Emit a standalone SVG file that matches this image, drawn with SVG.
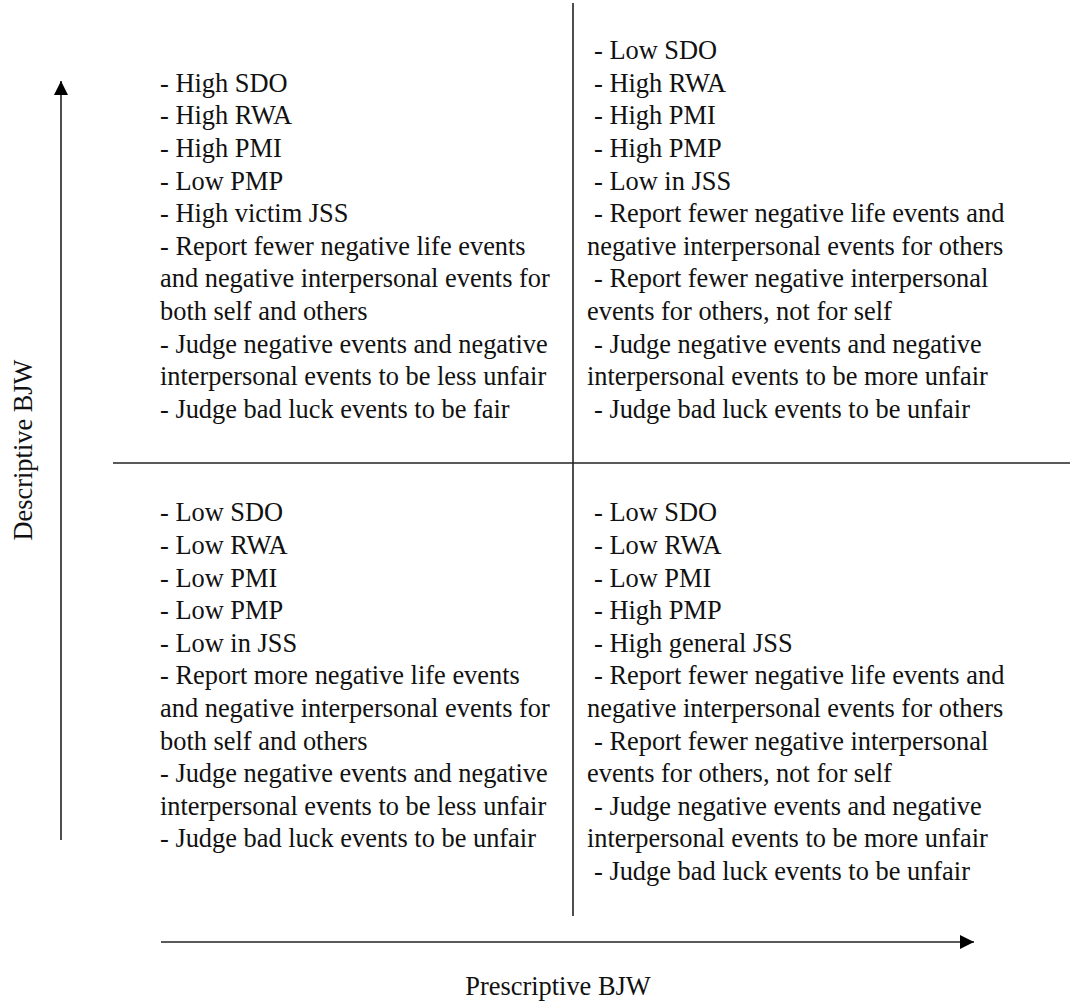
<svg xmlns="http://www.w3.org/2000/svg" width="1070" height="1003" viewBox="0 0 1070 1003">
<style>
  text { font-family: "Liberation Serif", "Times New Roman", serif; font-size: 26.4px; fill: #111; }
  .ln { stroke: #222; stroke-width: 1.6; fill: none; }
</style>
<defs>
  <marker id="ah" viewBox="0 0 10 10" refX="10" refY="5" markerWidth="9" markerHeight="9" markerUnits="userSpaceOnUse" orient="auto">
    <path d="M0,0 L10,5 L0,10 z" fill="#000"/>
  </marker>
  <marker id="ah2" viewBox="0 0 14 14" refX="14" refY="7" markerWidth="14" markerHeight="14" markerUnits="userSpaceOnUse" orient="auto">
    <path d="M0,0 L14,7 L0,14 z" fill="#000"/>
  </marker>
</defs>
<rect width="1070" height="1003" fill="#fff"/>
<g id="connectors">
  <line class="ln" x1="573" y1="3" x2="573" y2="916"/>
  <line class="ln" x1="113" y1="463" x2="1070" y2="463"/>
  <line class="ln" x1="61" y1="840" x2="61" y2="81" marker-end="url(#ah2)"/>
  <line class="ln" x1="161" y1="942" x2="974" y2="942" marker-end="url(#ah2)"/>
</g>
<g id="axis-descriptive">
  <text transform="translate(32,450) rotate(-90)" text-anchor="middle">Descriptive BJW</text>
</g>
<g id="axis-prescriptive">
  <text x="558" y="995" text-anchor="middle">Prescriptive BJW</text>
</g>
<g id="quadrant-top-left">
  <text x="160" y="91.7">- High SDO</text>
  <text x="160" y="124.3">- High RWA</text>
  <text x="160" y="156.9">- High PMI</text>
  <text x="160" y="189.5">- Low PMP</text>
  <text x="160" y="222.1">- High victim JSS</text>
  <text x="160" y="254.7">- Report fewer negative life events</text>
  <text x="160" y="287.3">and negative interpersonal events for</text>
  <text x="160" y="319.9">both self and others</text>
  <text x="160" y="352.5">- Judge negative events and negative</text>
  <text x="160" y="385.1">interpersonal events to be less unfair</text>
  <text x="160" y="417.7">- Judge bad luck events to be fair</text>
</g>
<g id="quadrant-top-right">
  <text x="594" y="59.1">- Low SDO</text>
  <text x="594" y="91.7">- High RWA</text>
  <text x="594" y="124.3">- High PMI</text>
  <text x="594" y="156.9">- High PMP</text>
  <text x="594" y="189.5">- Low in JSS</text>
  <text x="594" y="222.1">- Report fewer negative life events and</text>
  <text x="587" y="254.7">negative interpersonal events for others</text>
  <text x="594" y="287.3">- Report fewer negative interpersonal</text>
  <text x="587" y="319.9">events for others, not for self</text>
  <text x="594" y="352.5">- Judge negative events and negative</text>
  <text x="587" y="385.1">interpersonal events to be more unfair</text>
  <text x="594" y="417.7">- Judge bad luck events to be unfair</text>
</g>
<g id="quadrant-bottom-left">
  <text x="160" y="521.4">- Low SDO</text>
  <text x="160" y="554">- Low RWA</text>
  <text x="160" y="586.6">- Low PMI</text>
  <text x="160" y="619.2">- Low PMP</text>
  <text x="160" y="651.8">- Low in JSS</text>
  <text x="160" y="684.4">- Report more negative life events</text>
  <text x="160" y="717">and negative interpersonal events for</text>
  <text x="160" y="749.6">both self and others</text>
  <text x="160" y="782.2">- Judge negative events and negative</text>
  <text x="160" y="814.8">interpersonal events to be less unfair</text>
  <text x="160" y="847.4">- Judge bad luck events to be unfair</text>
</g>
<g id="quadrant-bottom-right">
  <text x="594" y="521.4">- Low SDO</text>
  <text x="594" y="554">- Low RWA</text>
  <text x="594" y="586.6">- Low PMI</text>
  <text x="594" y="619.2">- High PMP</text>
  <text x="594" y="651.8">- High general JSS</text>
  <text x="594" y="684.4">- Report fewer negative life events and</text>
  <text x="587" y="717">negative interpersonal events for others</text>
  <text x="594" y="749.6">- Report fewer negative interpersonal</text>
  <text x="587" y="782.2">events for others, not for self</text>
  <text x="594" y="814.8">- Judge negative events and negative</text>
  <text x="587" y="847.4">interpersonal events to be more unfair</text>
  <text x="594" y="880">- Judge bad luck events to be unfair</text>
</g>
</svg>
